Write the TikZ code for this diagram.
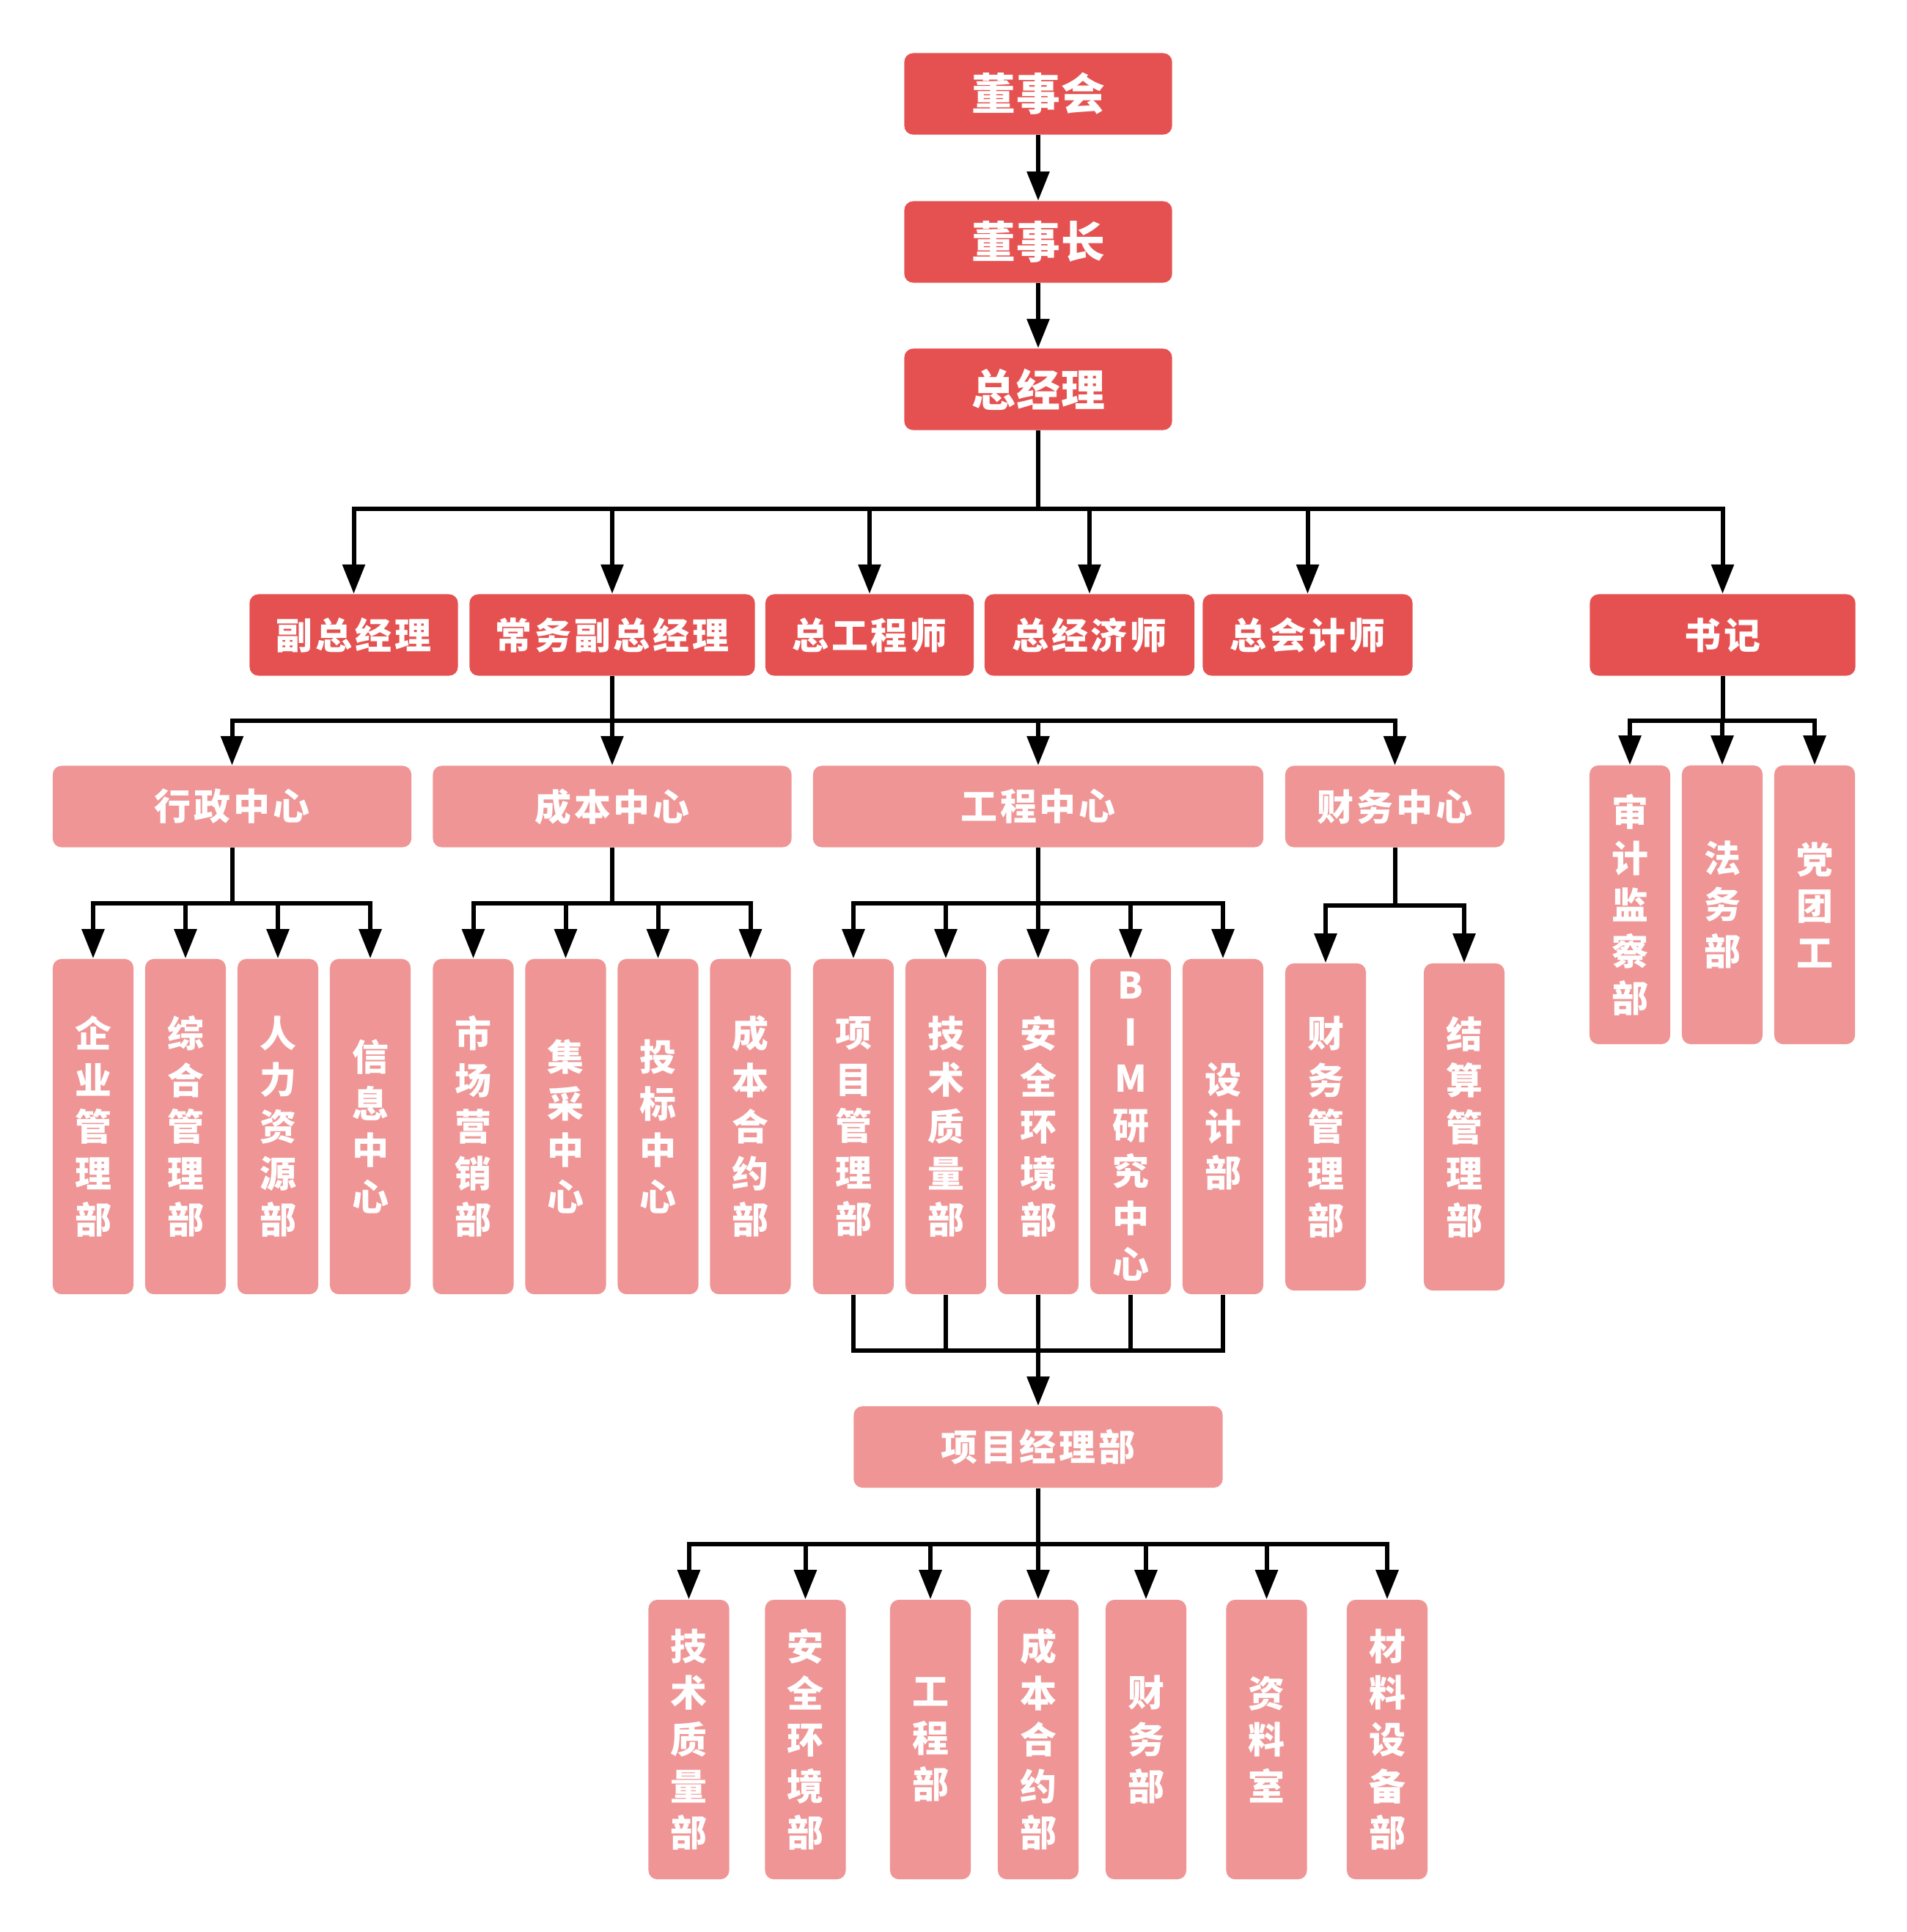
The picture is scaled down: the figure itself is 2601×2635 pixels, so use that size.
\documentclass[tikz,border=0pt]{standalone}
\usepackage{fontspec}
\usetikzlibrary{arrows.meta}

\newfontfamily\cjkwide[LetterSpace=2]{Noto Sans CJK SC}
\newfontfamily\cjkrow[LetterSpace=8]{Noto Sans CJK SC}
\newfontfamily\cjkcol{Noto Sans CJK SC}

\definecolor{leadred}{RGB}{229,81,80}
\definecolor{unitpink}{RGB}{239,149,149}

\tikzset{
    orgbox/.style={rounded corners=0.12cm, inner sep=0pt, text=white},
    leadbox/.style={orgbox, fill=leadred, minimum height=1.11cm,
        font={\cjkrow\bfseries\fontsize{14.2}{17}\selectfont}},
    headbox/.style={leadbox, minimum width=3.65cm,
        font={\cjkwide\bfseries\fontsize{17}{20}\selectfont}},
    unitbox/.style={orgbox, fill=unitpink, minimum height=1.11cm,
        font={\cjkrow\bfseries\fontsize{14.2}{17}\selectfont}},
    deptbox/.style={orgbox, fill=unitpink, minimum width=1.10cm, align=center,
        font={\cjkcol\bfseries\fontsize{14.2}{18.07}\selectfont}},
    link/.style={line width=0.06cm},
    arr/.style={link, -{Triangle[width=0.30cm,length=0.40cm]}}
}

\begin{document}
\begin{tikzpicture}[x=0.01cm, y=-0.01cm]
    \useasboundingbox (0,0) rectangle (2601,2635);

    % board and general manager
    \node[headbox, name=dsh] at (1416,128) {董事会};
    \node[headbox, name=dsz] at (1416,330) {董事长};
    \node[headbox, name=zjl] at (1416,531) {总经理};

    \draw[arr] (dsh) -- (dsz);
    \draw[arr] (dsz) -- (zjl);

    % second row
    \node[leadbox, minimum width=2.84cm, name=fzjl] at (482.5,866) {副总经理};
    \node[leadbox, minimum width=3.89cm, name=cwfz] at (835,866) {常务副总经理};
    \node[leadbox, minimum width=2.84cm, name=zgcs] at (1186,866) {总工程师};
    \node[leadbox, minimum width=2.86cm, name=zjjs] at (1486,866) {总经济师};
    \node[leadbox, minimum width=2.86cm, name=zkjs] at (1783.5,866) {总会计师};
    \node[leadbox, minimum width=3.62cm, name=sj] at (2349.5,866) {书记};

    \coordinate (bar1) at (1416,694);
    \draw[arr] (zjl.south) -- (zjl.south |- bar1) -| (fzjl.north);
    \draw[arr] (zjl.south) -- (zjl.south |- bar1) -| (cwfz.north);
    \draw[arr] (zjl.south) -- (zjl.south |- bar1) -| (zgcs.north);
    \draw[arr] (zjl.south) -- (zjl.south |- bar1) -| (zjjs.north);
    \draw[arr] (zjl.south) -- (zjl.south |- bar1) -| (zkjs.north);
    \draw[arr] (zjl.south) -- (zjl.south |- bar1) -| (sj.north);

    % centres
    \node[unitbox, minimum width=4.89cm, name=xzzx] at (316.5,1100) {行政中心};
    \node[unitbox, minimum width=4.89cm, name=cbzx] at (835,1100) {成本中心};
    \node[unitbox, minimum width=6.14cm, name=gczx] at (1416,1100) {工程中心};
    \node[unitbox, minimum width=2.99cm, name=cwzx] at (1902.5,1100) {财务中心};

    \coordinate (bar2) at (835,983);
    \draw[arr] (cwfz.south) -- (cwfz.south |- bar2) -| (xzzx.north);
    \draw[arr] (cwfz.south) -- (cwfz.south |- bar2) -| (cbzx.north);
    \draw[arr] (cwfz.south) -- (cwfz.south |- bar2) -| (gczx.north);
    \draw[arr] (cwfz.south) -- (cwfz.south |- bar2) -| (cwzx.north);

    % under the secretary
    \node[deptbox, minimum height=3.80cm, name=sjjc] at (2223,1234) {审\\计\\监\\察\\部};
    \node[deptbox, minimum height=3.80cm, name=fwb] at (2349,1234) {法\\务\\部};
    \node[deptbox, minimum height=3.80cm, name=dtg] at (2475,1234) {党\\团\\工};

    \draw[arr] (sj.south) -- (sj.south |- bar2) -| (sjjc.north);
    \draw[arr] (sj.south) -- (sj.south |- bar2) -| (fwb.north);
    \draw[arr] (sj.south) -- (sj.south |- bar2) -| (dtg.north);

    % departments
    \node[deptbox, minimum height=4.57cm, name=a1] at (127,1536.5) {企\\业\\管\\理\\部};
    \node[deptbox, minimum height=4.57cm, name=a2] at (253,1536.5) {综\\合\\管\\理\\部};
    \node[deptbox, minimum height=4.57cm, name=a3] at (379,1536.5) {人\\力\\资\\源\\部};
    \node[deptbox, minimum height=4.57cm, name=a4] at (505,1536.5) {信\\息\\中\\心};

    \node[deptbox, minimum height=4.57cm, name=b1] at (645.5,1536.5) {市\\场\\营\\销\\部};
    \node[deptbox, minimum height=4.57cm, name=b2] at (771.5,1536.5) {集\\采\\中\\心};
    \node[deptbox, minimum height=4.57cm, name=b3] at (897.5,1536.5) {投\\标\\中\\心};
    \node[deptbox, minimum height=4.57cm, name=b4] at (1023.5,1536.5) {成\\本\\合\\约\\部};

    \node[deptbox, minimum height=4.57cm, name=e1] at (1164,1536.5) {项\\目\\管\\理\\部};
    \node[deptbox, minimum height=4.57cm, name=e2] at (1290,1536.5) {技\\术\\质\\量\\部};
    \node[deptbox, minimum height=4.57cm, name=e3] at (1416,1536.5) {安\\全\\环\\境\\部};
    \node[deptbox, minimum height=4.57cm, name=e4] at (1542,1536.5) {B\\I\\M\\研\\究\\中\\心};
    \node[deptbox, minimum height=4.57cm, name=e5] at (1668,1536.5) {设\\计\\部};

    \node[deptbox, minimum height=4.46cm, name=f1] at (1808,1537) {财\\务\\管\\理\\部};
    \node[deptbox, minimum height=4.46cm, name=f2] at (1997,1537) {结\\算\\管\\理\\部};

    \coordinate (bar3) at (0,1232);
    \draw[arr] (xzzx.south) -- (xzzx.south |- bar3) -| (a1.north);
    \draw[arr] (xzzx.south) -- (xzzx.south |- bar3) -| (a2.north);
    \draw[arr] (xzzx.south) -- (xzzx.south |- bar3) -| (a3.north);
    \draw[arr] (xzzx.south) -- (xzzx.south |- bar3) -| (a4.north);

    \draw[arr] (cbzx.south) -- (cbzx.south |- bar3) -| (b1.north);
    \draw[arr] (cbzx.south) -- (cbzx.south |- bar3) -| (b2.north);
    \draw[arr] (cbzx.south) -- (cbzx.south |- bar3) -| (b3.north);
    \draw[arr] (cbzx.south) -- (cbzx.south |- bar3) -| (b4.north);

    \draw[arr] (gczx.south) -- (gczx.south |- bar3) -| (e1.north);
    \draw[arr] (gczx.south) -- (gczx.south |- bar3) -| (e2.north);
    \draw[arr] (gczx.south) -- (gczx.south |- bar3) -| (e3.north);
    \draw[arr] (gczx.south) -- (gczx.south |- bar3) -| (e4.north);
    \draw[arr] (gczx.south) -- (gczx.south |- bar3) -| (e5.north);

    \coordinate (bar4) at (0,1235);
    \draw[arr] (cwzx.south) -- (cwzx.south |- bar4) -| (f1.north);
    \draw[arr] (cwzx.south) -- (cwzx.south |- bar4) -| (f2.north);

    % project manager office
    \node[unitbox, minimum width=5.03cm, name=xmjlb] at (1416,1973.5) {项目经理部};

    \coordinate (merge) at (1416,1842);
    \draw[link] (e1.south) |- (merge);
    \draw[link] (e2.south) |- (merge);
    \draw[link] (e3.south) |- (merge);
    \draw[link] (e4.south) |- (merge);
    \draw[link] (e5.south) |- (merge);
    \draw[arr] (merge) -- (xmjlb.north);

    % project departments
    \node[deptbox, minimum height=3.81cm, name=p1] at (939.5,2372.5) {技\\术\\质\\量\\部};
    \node[deptbox, minimum height=3.81cm, name=p2] at (1098.5,2372.5) {安\\全\\环\\境\\部};
    \node[deptbox, minimum height=3.81cm, name=p3] at (1269,2372.5) {工\\程\\部};
    \node[deptbox, minimum height=3.81cm, name=p4] at (1416,2372.5) {成\\本\\合\\约\\部};
    \node[deptbox, minimum height=3.81cm, name=p5] at (1563,2372.5) {财\\务\\部};
    \node[deptbox, minimum height=3.81cm, name=p6] at (1727.5,2372.5) {资\\料\\室};
    \node[deptbox, minimum height=3.81cm, name=p7] at (1892,2372.5) {材\\料\\设\\备\\部};

    \coordinate (bar5) at (1416,2106);
    \draw[arr] (xmjlb.south) -- (xmjlb.south |- bar5) -| (p1.north);
    \draw[arr] (xmjlb.south) -- (xmjlb.south |- bar5) -| (p2.north);
    \draw[arr] (xmjlb.south) -- (xmjlb.south |- bar5) -| (p3.north);
    \draw[arr] (xmjlb.south) -- (xmjlb.south |- bar5) -| (p4.north);
    \draw[arr] (xmjlb.south) -- (xmjlb.south |- bar5) -| (p5.north);
    \draw[arr] (xmjlb.south) -- (xmjlb.south |- bar5) -| (p6.north);
    \draw[arr] (xmjlb.south) -- (xmjlb.south |- bar5) -| (p7.north);
\end{tikzpicture}
\end{document}
